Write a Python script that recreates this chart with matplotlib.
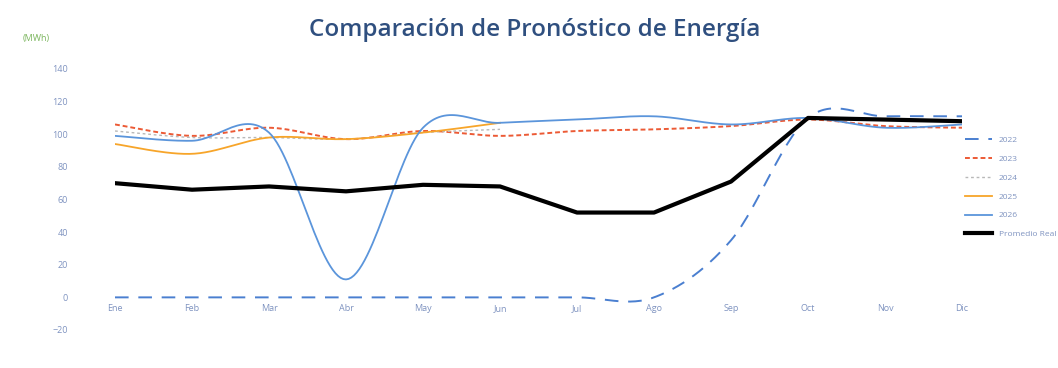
import numpy as np
import matplotlib.pyplot as plt

meses = ["Ene", "Feb", "Mar", "Abr", "May", "Jun", "Jul", "Ago", "Sep", "Oct", "Nov", "Dic"]

pron_2022 = [0, 0, 0, 0, 0, 0, 0, 0, 35, 110, 111, 111]
pron_2023 = [106, 99, 104, 97, 102, 99, 102, 103, 105, 109, 105, 104]
pron_2024 = [102, 98, 98, 97, 101, 103]
pron_2025 = [94, 88, 98, 97, 101, 107]
pron_2026 = [99, 96, 101, 11, 104, 107, 109, 111, 106, 110, 104, 106]
promedio_real = [70, 66, 68, 65, 69, 68, 52, 52, 71, 110, 109, 108]

TICK_COLOR = "#7f93c0"


def smooth(y, n=30):
    # curva suavizada tipo Excel (Catmull-Rom con Bezier)
    y = np.asarray(y, dtype=float)
    x = np.arange(len(y), dtype=float)
    pts = np.column_stack([x, y])
    out = []
    for i in range(len(pts) - 1):
        p0 = pts[i - 1] if i > 0 else pts[i]
        p1 = pts[i]
        p2 = pts[i + 1]
        p3 = pts[i + 2] if i + 2 < len(pts) else pts[i + 1]
        c1 = p1 + (p2 - p0) / 6
        c2 = p2 - (p3 - p1) / 6
        t = np.linspace(0, 1, n)[:, None]
        seg = (1 - t) ** 3 * p1 + 3 * (1 - t) ** 2 * t * c1 + 3 * (1 - t) * t ** 2 * c2 + t ** 3 * p2
        out.append(seg if i == 0 else seg[1:])
    seg = np.vstack(out)
    return seg[:, 0], seg[:, 1]


def main():
    plt.rcParams["font.family"] = ["Open Sans", "DejaVu Sans"]
    fig = plt.figure(figsize=(10.58, 3.68), dpi=100)
    ax = fig.add_axes([0.1087, 0.1033, 0.8006, 0.7092])

    x, y = smooth(pron_2022)
    ax.plot(x, y, color="#4a7fd0", lw=1.4, dashes=(7, 5), label="2022")
    x, y = smooth(pron_2023)
    ax.plot(x, y, color="#ec5a35", lw=1.4, dashes=(2.5, 1.5), label="2023")
    x, y = smooth(pron_2024)
    ax.plot(x, y, color="#b8b8b8", lw=1.0, dashes=(2, 2), label="2024")
    x, y = smooth(pron_2025)
    ax.plot(x, y, color="#f7a52a", lw=1.3, label="2025")
    x, y = smooth(pron_2026)
    ax.plot(x, y, color="#5b95db", lw=1.3, label="2026")
    ax.plot(range(len(promedio_real)), promedio_real, color="black", lw=3.0,
            solid_joinstyle="round", label="Promedio Real")

    ax.set_xlim(0, 11)
    ax.set_ylim(-20, 140)
    ax.set_xticks(range(len(meses)))
    ax.set_xticklabels(meses)
    ax.set_yticks(range(-20, 141, 20))
    ax.tick_params(length=0, labelsize=6.5, colors=TICK_COLOR)
    ax.tick_params(axis="x", pad=5)
    ax.tick_params(axis="y", pad=34)
    for s in ax.spines.values():
        s.set_visible(False)
    ax.spines["bottom"].set_position(("data", 0))

    fig.text(0.505, 0.918, "Comparación de Pronóstico de Energía", ha="center", va="center",
             fontsize=17.5, fontweight="semibold", color="#2f4f7f")
    fig.text(0.021, 0.895, "(MWh)", ha="left", va="center", fontsize=6.5, color="#7ab55c")

    leg = ax.legend(loc="upper left", bbox_to_anchor=(1.0, 0.755), frameon=False,
                    fontsize=6, handlelength=3.2, labelspacing=1.32, borderaxespad=0)
    for t in leg.get_texts():
        t.set_color(TICK_COLOR)

    fig.savefig("out.png", dpi=100)


if __name__ == "__main__":
    main()
